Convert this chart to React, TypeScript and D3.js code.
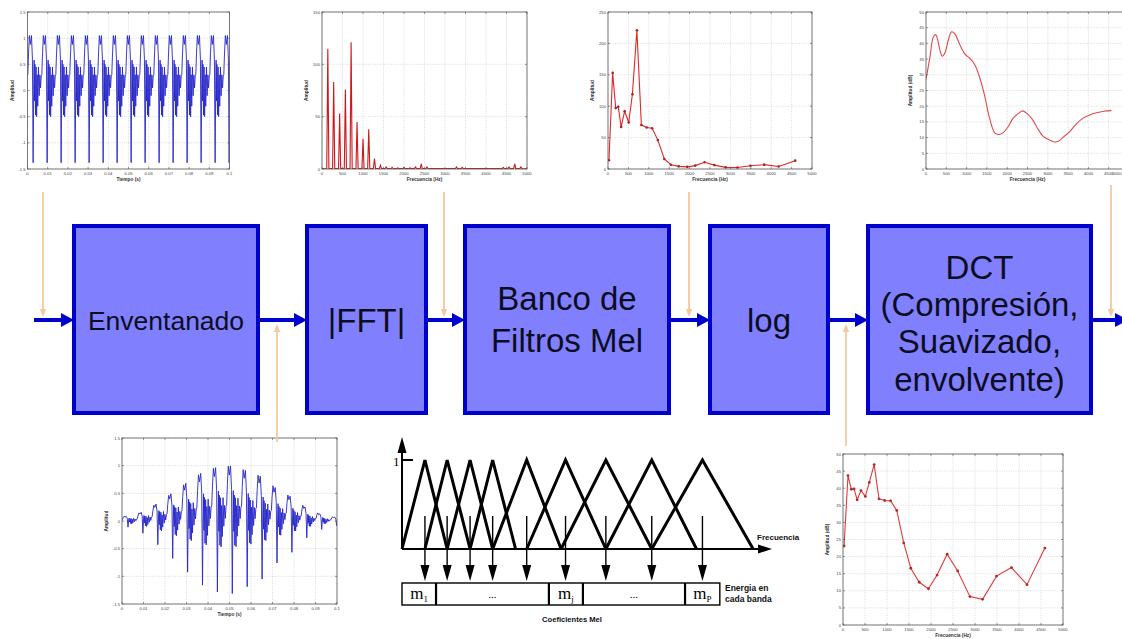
import React from "react";
import * as d3 from "d3";

const W = 1122;
const H = 639;

// ---------- DATA ----------
// one pitch period of the voiced waveform (phase 0 = deep trough)
const cyclePhase = [0, 0.04, 0.07, 0.1, 0.13, 0.17, 0.21, 0.25, 0.29, 0.33, 0.38, 0.43, 0.48, 0.53, 0.58, 0.62, 0.67, 0.73, 0.8, 0.88, 0.95];
const cycleValue = [-1.38, 0.0, 0.58, -0.2, 0.5, -0.47, 0.45, -0.5, 0.3, -0.3, 0.45, -0.1, 0.3, 0.05, 0.28, 0.3, 0.7, 1.05, 0.88, 1.05, 0.6];
const pitchPeriod = 0.00693; // s
const firstTrough = 0.00279; // s
// gain of the analysis window at each pitch trough (bottom-left plot)
const windowGain = [0.08, 0.16, 0.31, 0.49, 0.67, 0.84, 0.93, 0.95, 0.86, 0.76, 0.55, 0.41, 0.22, 0.11, 0.06];

// |FFT| harmonics
const harmonicFreq = [142, 285, 430, 570, 710, 855, 1000, 1140, 1280, 1425, 1565, 1710];
const harmonicAmp = [115, 83, 53, 76, 121, 45, 29, 38, 10, 3.5, 2, 1.5];
const minorFreq = [1850, 2000, 2150, 2280, 2420, 2560, 3280, 3420, 4420, 4560, 4700, 4850];
const minorAmp = [1, 1.5, 1, 2, 5, 2, 2, 1.5, 1.5, 2, 5, 2];

// Mel filter bank outputs
const melFreq = [24, 114, 189, 252, 322, 408, 508, 598, 708, 818, 948, 1082, 1222, 1380, 1541, 1733, 1942, 2138, 2367, 2606, 2885, 3172, 3490, 3828, 4182, 4588];
const melAmp = [14, 153, 97, 99, 67, 92, 74, 119, 221, 70, 66, 65, 46, 16, 6.8, 4.2, 3.4, 5.4, 10.8, 6.2, 2.6, 2.4, 5.2, 6.9, 3.9, 13.3];
const melDb = [23.1, 43.7, 39.7, 39.8, 36.6, 39.3, 37.6, 41.7, 46.9, 36.9, 36.4, 36.3, 33.5, 24.0, 16.6, 12.5, 10.6, 14.6, 20.7, 15.8, 8.3, 7.5, 14.3, 16.8, 11.8, 22.5];

// smoothed envelope after DCT
const envFreq = [0, 98, 180, 238, 287, 344, 401, 467, 549, 631, 713, 820, 959, 1082, 1205, 1328, 1451, 1557, 1697, 1795, 1902, 2025, 2148, 2287, 2377, 2475, 2615, 2746, 2885, 3033, 3172, 3254, 3377, 3541, 3705, 3869, 4033, 4197, 4377, 4566];
const envDb = [28.5, 35.7, 42, 42.8, 41.2, 37.8, 35.9, 37, 41, 43.7, 43, 40, 36.6, 35.2, 33.1, 28.9, 23, 16.6, 11.4, 11, 11.6, 13.5, 16.2, 17.8, 18.5, 17.8, 15.9, 13, 10.4, 9.3, 8.6, 8.8, 10.1, 11.9, 14.4, 16.2, 17.2, 17.9, 18.4, 18.6];

// ticks
const timeTicks = [0, 0.01, 0.02, 0.03, 0.04, 0.05, 0.06, 0.07, 0.08, 0.09, 0.1];
const timeTickLabels = ["0", "0.01", "0.02", "0.03", "0.04", "0.05", "0.06", "0.07", "0.08", "0.09", "0.1"];
const ampTicks = [-1.5, -1, -0.5, 0, 0.5, 1, 1.5];
const ampTickLabels = ["-1.5", "-1", "-0.5", "0", "0.5", "1", "1.5"];
const freqTicks = [0, 500, 1000, 1500, 2000, 2500, 3000, 3500, 4000, 4500, 5000];
const fftAmpTicks = [0, 50, 100, 150];
const melAmpTicks = [0, 50, 100, 150, 200, 250];
const dbTicks = [0, 5, 10, 15, 20, 25, 30, 35, 40, 45, 50];

// processing stages
const stageLines = [["Enventanado"], ["|FFT|"], ["Banco de", "Filtros Mel"], ["log"], ["DCT", "(Compresión,", "Suavizado,", "envolvente)"]];

// mel filter bank sketch (abstract frequency axis 0..100)
const filterLeft = [0, 6.2, 12.2, 18.4, 24.5, 33.7, 43.0, 55.1, 67.5];
const filterPeak = [6.2, 12.2, 18.4, 24.5, 33.7, 44.2, 55.1, 67.5, 81.2];
const filterRight = [12.2, 18.4, 24.5, 30.7, 43.0, 55.1, 67.5, 79.6, 94.9];
const barEdges = [0, 9.2, 39.7, 48.9, 76.5, 85.9];
const barSub = ["1", "", "j", "", "P"];

// ---------- HELPERS ----------
const SANS = "'Liberation Sans', Arial, sans-serif";
const SERIF = "'Liberation Serif', 'DejaVu Serif', serif";

function buildSignal(windowed: boolean): [number, number][] {
  const troughTimes = windowGain.map((_, k) => firstTrough + k * pitchPeriod);
  const gain = d3.scaleLinear().domain(troughTimes).range(windowGain).clamp(true);
  const pts: [number, number][] = [];
  for (let k = -1; k <= 15; k++) {
    for (let i = 0; i < cyclePhase.length; i++) {
      const t = firstTrough + (k + cyclePhase[i]) * pitchPeriod;
      if (t < -pitchPeriod || t > 0.1 + pitchPeriod) continue;
      const v = cycleValue[i] * (windowed ? gain(t) : 1);
      pts.push([t, v]);
    }
  }
  return pts;
}

function buildSpectrum(): [number, number][] {
  const peaks: [number, number][] = harmonicFreq
    .map((f, i) => [f, harmonicAmp[i]] as [number, number])
    .concat(minorFreq.map((f, i) => [f, minorAmp[i]] as [number, number]))
    .sort((a, b) => a[0] - b[0]);
  const pts: [number, number][] = [[0, 0.3]];
  peaks.forEach(([f, a]) => {
    pts.push([f - 26, 0.4], [f, a], [f + 26, 0.4]);
  });
  pts.push([5000, 0.3]);
  return pts;
}

type Sc = d3.ScaleLinear<number, number>;

interface PlotProps {
  id: string;
  x0: number; y0: number; x1: number; y1: number;
  xDomain: [number, number]; yDomain: [number, number];
  xTicks: number[]; xLabels: string[];
  yTicks: number[]; yLabels: string[];
  xTitle: string; yTitle: string;
  children: (xs: Sc, ys: Sc) => React.ReactNode;
}

function Plot(p: PlotProps) {
  const xs = d3.scaleLinear().domain(p.xDomain).range([p.x0, p.x1]);
  const ys = d3.scaleLinear().domain(p.yDomain).range([p.y1, p.y0]);
  const w = p.x1 - p.x0;
  const h = p.y1 - p.y0;
  return (
    <g>
      <defs>
        <clipPath id={p.id}>
          <rect x={p.x0} y={p.y0} width={w} height={h} />
        </clipPath>
      </defs>
      <rect x={p.x0} y={p.y0} width={w} height={h} fill="#fff" />
      {p.xTicks.map((t, i) => (
        <line key={"gx" + i} x1={xs(t)} x2={xs(t)} y1={p.y0} y2={p.y1} stroke="#c4c4c4" strokeWidth={0.6} strokeDasharray="1,1.3" />
      ))}
      {p.yTicks.map((t, i) => (
        <line key={"gy" + i} x1={p.x0} x2={p.x1} y1={ys(t)} y2={ys(t)} stroke="#c4c4c4" strokeWidth={0.6} strokeDasharray="1,1.3" />
      ))}
      <g clipPath={`url(#${p.id})`}>{p.children(xs, ys)}</g>
      <rect x={p.x0} y={p.y0} width={w} height={h} fill="none" stroke="#5a5a5a" strokeWidth={0.8} />
      {p.xTicks.map((t, i) => {
        const lx = xs(t);
        const edge = lx + 6 > W;
        return (
          <g key={"tx" + i}>
            <line x1={lx} x2={lx} y1={p.y1} y2={p.y1 - 2} stroke="#555" strokeWidth={0.6} />
            <line x1={lx} x2={lx} y1={p.y0} y2={p.y0 + 2} stroke="#555" strokeWidth={0.6} />
            <text x={edge ? W - 0.5 : lx} y={p.y1 + 5.5} fontSize={4.2} fill="#444" textAnchor={edge ? "end" : "middle"} fontFamily={SANS}>
              {p.xLabels[i]}
            </text>
          </g>
        );
      })}
      {p.yTicks.map((t, i) => (
        <g key={"ty" + i}>
          <line x1={p.x0} x2={p.x0 + 2} y1={ys(t)} y2={ys(t)} stroke="#555" strokeWidth={0.6} />
          <line x1={p.x1} x2={p.x1 - 2} y1={ys(t)} y2={ys(t)} stroke="#555" strokeWidth={0.6} />
          <text x={p.x0 - 2} y={ys(t) + 1.5} fontSize={4.2} fill="#444" textAnchor="end" fontFamily={SANS}>
            {p.yLabels[i]}
          </text>
        </g>
      ))}
      <text x={(p.x0 + p.x1) / 2} y={p.y1 + 11.5} fontSize={4.8} fontWeight="bold" fill="#333" textAnchor="middle" fontFamily={SANS}>
        {p.xTitle}
      </text>
      <text
        transform={`translate(${p.x0 - 14},${(p.y0 + p.y1) / 2}) rotate(-90)`}
        fontSize={4.8}
        fontWeight="bold"
        fill="#333"
        textAnchor="middle"
        fontFamily={SANS}
      >
        {p.yTitle}
      </text>
    </g>
  );
}

function BlueArrow({ x1, x2, y }: { x1: number; x2: number; y: number }) {
  return (
    <g>
      <line x1={x1} x2={x2 - 10} y1={y} y2={y} stroke="#0000cc" strokeWidth={4} />
      <polygon points={`${x2},${y} ${x2 - 13},${y - 7} ${x2 - 13},${y + 7}`} fill="#0000cc" />
    </g>
  );
}

function OrangeArrow({ x, yFrom, yTo }: { x: number; yFrom: number; yTo: number }) {
  const dir = yTo > yFrom ? 1 : -1;
  return (
    <g>
      <line x1={x} x2={x} y1={yFrom} y2={yTo - dir * 5} stroke="#f6c8a0" strokeWidth={1.8} />
      <polygon points={`${x},${yTo} ${x - 3.2},${yTo - dir * 8} ${x + 3.2},${yTo - dir * 8}`} fill="#f6c8a0" />
    </g>
  );
}

export default function App() {
  const signal = buildSignal(false);
  const windowedSignal = buildSignal(true);
  const spectrum = buildSpectrum();

  const lineXY = (xs: Sc, ys: Sc, curve: d3.CurveFactory = d3.curveLinear) =>
    d3
      .line<[number, number]>()
      .x((d) => xs(d[0]))
      .y((d) => ys(d[1]))
      .curve(curve);

  const freqLabels = freqTicks.map((v) => String(v));
  const boxes = [
    { x0: 74, x1: 258 },
    { x0: 307, x1: 426 },
    { x0: 465, x1: 669 },
    { x0: 710, x1: 828 },
    { x0: 868, x1: 1091 },
  ];
  const boxTop = 226;
  const boxBottom = 413;
  const flowY = 320;
  const stageFont = [26.5, 33, 33, 33, 33];
  const stageBaselines = [[330], [332], [310, 352], [332], [279, 316, 353, 391]];

  const fx = d3.scaleLinear().domain([0, 100]).range([402, 772]);
  const fy = d3.scaleLinear().domain([0, 1]).range([549, 460]);

  return (
    <svg width={W} height={H} style={{ position: "absolute", left: 0, top: 0, background: "#fff" }} fontFamily={SANS}>
      <rect x={0} y={0} width={W} height={H} fill="#fff" />

      {/* ---------- top plots ---------- */}
      <Plot id="p1" x0={27.5} y0={12} x1={229.5} y1={169} xDomain={[0, 0.1]} yDomain={[-1.5, 1.5]}
        xTicks={timeTicks} xLabels={timeTickLabels} yTicks={ampTicks} yLabels={ampTickLabels}
        xTitle="Tiempo (s)" yTitle="Amplitud">
        {(xs, ys) => <path d={lineXY(xs, ys)(signal) || ""} fill="none" stroke="#2626c8" strokeWidth={0.9} />}
      </Plot>

      <Plot id="p2" x0={322} y0={12} x1={527} y1={169} xDomain={[0, 5000]} yDomain={[0, 150]}
        xTicks={freqTicks} xLabels={freqLabels} yTicks={fftAmpTicks} yLabels={fftAmpTicks.map(String)}
        xTitle="Frecuencia (Hz)" yTitle="Amplitud">
        {(xs, ys) => <path d={lineXY(xs, ys)(spectrum) || ""} fill="none" stroke="#cc1a1a" strokeWidth={1.1} />}
      </Plot>

      <Plot id="p3" x0={608} y0={12} x1={812} y1={169} xDomain={[0, 5000]} yDomain={[0, 250]}
        xTicks={freqTicks} xLabels={freqLabels} yTicks={melAmpTicks} yLabels={melAmpTicks.map(String)}
        xTitle="Frecuencia (Hz)" yTitle="Amplitud">
        {(xs, ys) => {
          const pts = melFreq.map((f, i) => [f, melAmp[i]] as [number, number]);
          return (
            <g>
              <path d={lineXY(xs, ys)(pts) || ""} fill="none" stroke="#e02828" strokeWidth={1.1} />
              {pts.map((d, i) => (
                <circle key={i} cx={xs(d[0])} cy={ys(d[1])} r={1.3} fill="#a82424" />
              ))}
            </g>
          );
        }}
      </Plot>

      <Plot id="p4" x0={926} y0={12} x1={1129} y1={169} xDomain={[0, 5000]} yDomain={[0, 50]}
        xTicks={freqTicks} xLabels={freqLabels} yTicks={dbTicks} yLabels={dbTicks.map(String)}
        xTitle="Frecuencia (Hz)" yTitle="Amplitud (dB)">
        {(xs, ys) => {
          const pts = envFreq.map((f, i) => [f, envDb[i]] as [number, number]);
          return <path d={lineXY(xs, ys, d3.curveCatmullRom)(pts) || ""} fill="none" stroke="#e04a4a" strokeWidth={1.1} />;
        }}
      </Plot>

      {/* ---------- bottom plots ---------- */}
      <Plot id="p5" x0={122} y0={438} x1={337} y1={604} xDomain={[0, 0.1]} yDomain={[-1.5, 1.5]}
        xTicks={timeTicks} xLabels={timeTickLabels} yTicks={ampTicks} yLabels={ampTickLabels}
        xTitle="Tiempo (s)" yTitle="Amplitud">
        {(xs, ys) => <path d={lineXY(xs, ys)(windowedSignal) || ""} fill="none" stroke="#2626c8" strokeWidth={0.9} />}
      </Plot>

      <Plot id="p6" x0={843} y0={454} x1={1063} y1={625} xDomain={[0, 5000]} yDomain={[0, 50]}
        xTicks={freqTicks} xLabels={freqLabels} yTicks={dbTicks} yLabels={dbTicks.map(String)}
        xTitle="Frecuencia (Hz)" yTitle="Amplitud (dB)">
        {(xs, ys) => {
          const pts = melFreq.map((f, i) => [f, melDb[i]] as [number, number]);
          return (
            <g>
              <path d={lineXY(xs, ys)(pts) || ""} fill="none" stroke="#e03a3a" strokeWidth={1.1} />
              {pts.map((d, i) => (
                <circle key={i} cx={xs(d[0])} cy={ys(d[1])} r={1.4} fill="#b02a2a" />
              ))}
            </g>
          );
        }}
      </Plot>

      {/* ---------- flow ---------- */}
      {boxes.map((b, i) => (
        <g key={"box" + i}>
          <rect x={b.x0} y={boxTop} width={b.x1 - b.x0} height={boxBottom - boxTop} fill="#8080ff" stroke="#0000cc" strokeWidth={4} />
          {stageLines[i].map((ln, j) => (
            <text key={j} x={(b.x0 + b.x1) / 2} y={stageBaselines[i][j]} fontSize={stageFont[i]} fill="#0d0d22" textAnchor="middle" fontFamily={SANS}>
              {ln}
            </text>
          ))}
        </g>
      ))}
      <BlueArrow x1={34} x2={74} y={flowY} />
      <BlueArrow x1={258} x2={307} y={flowY} />
      <BlueArrow x1={426} x2={465} y={flowY} />
      <BlueArrow x1={669} x2={710} y={flowY} />
      <BlueArrow x1={828} x2={868} y={flowY} />
      <BlueArrow x1={1091} x2={1128} y={flowY} />

      <OrangeArrow x={43} yFrom={192} yTo={317} />
      <OrangeArrow x={444} yFrom={192} yTo={317} />
      <OrangeArrow x={689} yFrom={192} yTo={317} />
      <OrangeArrow x={1111} yFrom={185} yTo={317} />
      <OrangeArrow x={277} yFrom={442} yTo={324} />
      <OrangeArrow x={846} yFrom={446} yTo={324} />

      {/* ---------- mel filter bank sketch ---------- */}
      <g>
        <line x1={fx(0)} x2={fx(0)} y1={fy(0)} y2={450} stroke="#000" strokeWidth={2} />
        <polygon points={`${fx(0)},437 ${fx(0) - 4.5},453 ${fx(0) + 4.5},453`} fill="#000" />
        <line x1={fx(0)} x2={fx(100) - 10} y1={fy(0)} y2={fy(0)} stroke="#000" strokeWidth={2} />
        <polygon points={`${fx(100)},${fy(0)} ${fx(100) - 14},${fy(0) - 4.5} ${fx(100) - 14},${fy(0) + 4.5}`} fill="#000" />
        <line x1={fx(0)} x2={fx(0) + 11} y1={fy(1)} y2={fy(1)} stroke="#000" strokeWidth={2} />
        <text x={393} y={466} fontSize={13} fontFamily={SERIF} fill="#000">1</text>
        {filterPeak.map((pk, i) => (
          <path key={"tri" + i}
            d={`M${fx(filterLeft[i])},${fy(0)} L${fx(pk)},${fy(1)} L${fx(filterRight[i])},${fy(0)}`}
            fill="none" stroke="#000" strokeWidth={3} strokeLinejoin="miter" />
        ))}
        {filterPeak.map((pk, i) => (
          <g key={"arr" + i}>
            <line x1={fx(pk)} x2={fx(pk)} y1={516} y2={568} stroke="#000" strokeWidth={1.4} />
            <polygon points={`${fx(pk) - 4.5},565 ${fx(pk) + 4.5},565 ${fx(pk)},581`} fill="#000" />
          </g>
        ))}
        <text x={757} y={540} fontSize={8} fontWeight="bold" fill="#111">Frecuencia</text>
        <rect x={fx(barEdges[0])} y={583} width={fx(barEdges[5]) - fx(barEdges[0])} height={22} fill="#fff" stroke="#000" strokeWidth={1.4} />
        {barEdges.slice(1, 5).map((e, i) => (
          <line key={"div" + i} x1={fx(e)} x2={fx(e)} y1={583} y2={605} stroke="#000" strokeWidth={2.2} />
        ))}
        {barSub.map((s, i) => {
          const cx = (fx(barEdges[i]) + fx(barEdges[i + 1])) / 2;
          return s ? (
            <text key={"lab" + i} x={cx} y={599} fontSize={17} fontFamily={SERIF} textAnchor="middle" fill="#000">
              m<tspan fontSize={9} dy={3}>{s}</tspan>
            </text>
          ) : (
            <text key={"lab" + i} x={cx} y={598} fontSize={11} fontFamily={SERIF} textAnchor="middle" fill="#000">...</text>
          );
        })}
        <text x={725} y={591} fontSize={8.5} fontWeight="bold" fill="#111">Energia en</text>
        <text x={725} y={602} fontSize={8.5} fontWeight="bold" fill="#111">cada banda</text>
        <text x={572} y={622} fontSize={7.6} fontWeight="bold" fill="#111" textAnchor="middle">Coeficientes Mel</text>
      </g>
    </svg>
  );
}
